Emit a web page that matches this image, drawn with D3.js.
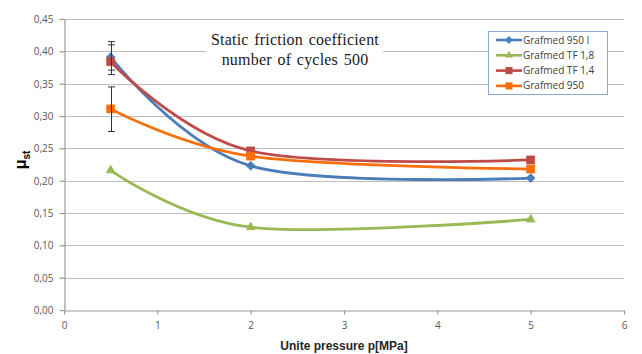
<!DOCTYPE html>
<html>
<head>
<meta charset="utf-8">
<script src="https://cdn.jsdelivr.net/npm/d3@7/dist/d3.min.js"></script>
<style>
  html, body { margin: 0; padding: 0; background: #fff; }
  svg { display: block; }
</style>
</head>
<body>
<svg id="chart" width="642" height="354"></svg>
<script>
// ---- data ----
const pressures = [0.5, 2, 5];
const seriesNames = ["Grafmed 950 I", "Grafmed TF 1,8", "Grafmed TF 1,4", "Grafmed 950"];
const grafmed950I = [0.391, 0.223, 0.204];
const grafmedTF18 = [0.216, 0.128, 0.140];
const grafmedTF14 = [0.384, 0.246, 0.232];
const grafmed950  = [0.311, 0.238, 0.218];
// error bars at p = 0.5 MPa: [low, high]
const errGrafmed950I = [0.364, 0.415];
const errGrafmedTF14 = [0.371, 0.410];
const errGrafmed950  = [0.276, 0.345];
const xTicks = [0, 1, 2, 3, 4, 5, 6];
const yTicks = [0, 0.05, 0.10, 0.15, 0.20, 0.25, 0.30, 0.35, 0.40, 0.45];
const titleLines = ["Static friction coefficient", "number of cycles 500"];
const xTitle = "Unite pressure p[MPa]";

// ---- styles ----
const colors = ["#4A7EBB", "#98B954", "#BE4B48", "#FA6E0A"];
const markers = ["diamond", "triangle", "square", "square"];
const seriesValues = [grafmed950I, grafmedTF18, grafmedTF14, grafmed950];
const seriesErr = [errGrafmed950I, null, errGrafmedTF14, errGrafmed950];

const svg = d3.select("#chart");
const pLeft = 64, pRight = 624, pTop = 19, pBottom = 310;
const x = d3.scaleLinear().domain([0, 6]).range([pLeft, pRight]);
const y = d3.scaleLinear().domain([0, 0.45]).range([pBottom, pTop]);
const fmt = v => d3.format(".2f")(v).replace(".", ",");

// gridlines
svg.append("g").selectAll("line").data(yTicks.filter(d => d > 0)).join("line")
  .attr("x1", pLeft).attr("x2", pRight)
  .attr("y1", d => Math.round(y(d)) + 0.5).attr("y2", d => Math.round(y(d)) + 0.5)
  .attr("stroke", "#bdbdbd").attr("stroke-width", 1.2);

// axes
const yAxis = d3.axisLeft(y).tickValues(yTicks).tickFormat(fmt).tickSize(5).tickSizeOuter(0);
const gy = svg.append("g").attr("transform", `translate(${pLeft + 0.5},0)`).call(yAxis);
const xAxis = d3.axisBottom(x).tickValues(xTicks).tickFormat(d3.format("d")).tickSize(4).tickSizeOuter(0);
const gx = svg.append("g").attr("transform", `translate(0,${pBottom + 0.5})`).call(xAxis);
[gy, gx].forEach(g => {
  g.select(".domain").attr("stroke", "#9a9a9a").attr("stroke-width", 1.2);
  g.selectAll(".tick line").attr("stroke", "#9a9a9a").attr("stroke-width", 1.2);
  g.selectAll(".tick text").attr("fill", "#595959")
    .style("font-family", "'Open Sans', 'Liberation Sans', sans-serif").style("font-size", "10px");
});
gy.selectAll(".tick text").attr("x", -11).attr("dy", "0.35em");
gx.selectAll(".tick text").attr("y", 11).attr("dy", "0.71em");

// title with white background
svg.append("rect").attr("x", 206).attr("y", 27).attr("width", 177).attr("height", 44).attr("fill", "#fff");
svg.append("g").selectAll("text").data(titleLines).join("text")
  .attr("x", 295).attr("y", (d, i) => 45 + i * 19.5)
  .attr("text-anchor", "middle")
  .style("font-family", "'Liberation Serif', 'DejaVu Serif', serif")
  .style("font-size", "16px").style("letter-spacing", "0.2px").style("word-spacing", "1.5px")
  .attr("fill", "#1a1a1a")
  .text(d => d);

// lines
const line = d3.line().x(d => x(d[0])).y(d => y(d[1])).curve(d3.curveCardinal.tension(0));
const symbolFor = (m, size) => {
  if (m === "diamond") return d3.symbol().type(d3.symbolDiamond2).size(size)();
  if (m === "triangle") return d3.symbol().type(d3.symbolTriangle2).size(size)();
  return d3.symbol().type(d3.symbolSquare2).size(size)();
};
const markerSize = { diamond: 50, triangle: 55, square: 80 };

seriesValues.forEach((vals, i) => {
  const pts = pressures.map((p, j) => [p, vals[j]]);
  svg.append("path").datum(pts).attr("d", line)
    .attr("fill", "none").attr("stroke", colors[i]).attr("stroke-width", 2.8)
    .attr("stroke-linejoin", "round").attr("stroke-linecap", "round");
  svg.append("g").selectAll("path").data(pts).join("path")
    .attr("transform", d => `translate(${x(d[0])},${y(d[1])})`)
    .attr("d", symbolFor(markers[i], markerSize[markers[i]]))
    .attr("fill", colors[i]).attr("stroke", colors[i]).attr("stroke-width", 0.8);
});

// error bars
seriesErr.forEach((e, i) => {
  if (!e) return;
  const g = svg.append("g").attr("stroke", "#333").attr("stroke-width", 1);
  const cx = Math.round(x(pressures[0])) + 0.5;
  g.append("line").attr("x1", cx).attr("x2", cx).attr("y1", y(e[0])).attr("y2", y(e[1]));
  e.forEach(v => g.append("line").attr("x1", cx - 3.5).attr("x2", cx + 3.5).attr("y1", y(v)).attr("y2", y(v)));
});

// legend
const lg = svg.append("g");
lg.append("rect").attr("x", 488.5).attr("y", 31.5).attr("width", 119).attr("height", 63)
  .attr("fill", "#fff").attr("stroke", "#8CA8D6").attr("stroke-width", 1);
seriesNames.forEach((name, i) => {
  const ly = 40 + i * 15.3;
  lg.append("line").attr("x1", 496).attr("x2", 522).attr("y1", ly).attr("y2", ly)
    .attr("stroke", colors[i]).attr("stroke-width", 2.6);
  lg.append("path").attr("transform", `translate(509,${ly})`)
    .attr("d", symbolFor(markers[i], markerSize[markers[i]] * 0.8)).attr("fill", colors[i]);
  lg.append("text").attr("x", 523).attr("y", ly).attr("dy", "0.35em")
    .style("font-family", "'Open Sans', 'Liberation Sans', sans-serif").style("font-size", "10px")
    .attr("fill", "#404040").text(name);
});

// axis titles
svg.append("text").attr("x", 344).attr("y", 350).attr("text-anchor", "middle")
  .style("font-family", "'Liberation Sans', Arial, sans-serif").style("font-size", "12px")
  .style("font-weight", "bold").attr("fill", "#262626").text(xTitle);
const yt = svg.append("text").attr("transform", "translate(26,160) rotate(-90)").attr("text-anchor", "middle")
  .style("font-family", "'Liberation Sans', Arial, sans-serif").style("font-size", "16px")
  .style("font-weight", "bold").attr("fill", "#000");
yt.append("tspan").text("μ");
yt.append("tspan").attr("dy", 4).style("font-size", "10px").text("st");
</script>
</body>
</html>
